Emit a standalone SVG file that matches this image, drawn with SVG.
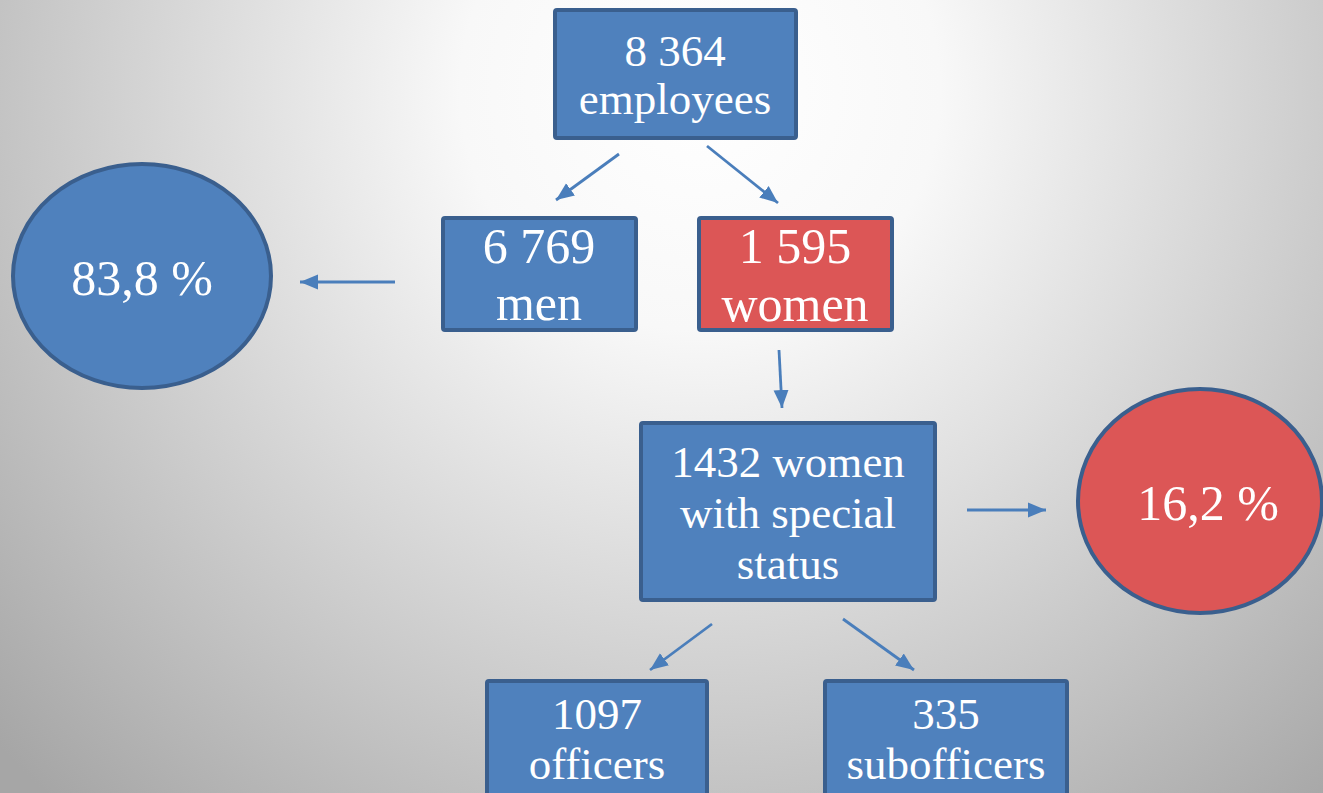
<svg xmlns="http://www.w3.org/2000/svg" width="1323" height="793" viewBox="0 0 1323 793">
<defs>
<radialGradient id="bg" gradientUnits="userSpaceOnUse" cx="700" cy="90" r="960">
<stop offset="0" stop-color="#ffffff"/>
<stop offset="0.25" stop-color="#f8f8f8"/>
<stop offset="1" stop-color="#a6a6a6"/>
</radialGradient>
<marker id="ah" markerUnits="userSpaceOnUse" markerWidth="20" markerHeight="18" refX="18" refY="9" orient="auto">
<path d="M0,1.5 L18,9 L0,16.5 z" fill="#4a7ebb"/>
</marker>
<style>
.box{fill:#4f81bd;stroke:#3a5f8e;stroke-width:4}
.red{fill:#dc5656;stroke:#3a5f8e;stroke-width:4}
.t{fill:#ffffff;font-family:"Liberation Serif","DejaVu Serif",serif;text-anchor:middle;font-size:45px}
.b{font-size:50px}
.c line{stroke:#4a7ebb;stroke-width:2.8;marker-end:url(#ah)}
</style>
</defs>
<rect x="0" y="0" width="1323" height="793" fill="url(#bg)"/>
<g class="c" id="connectors">
<line x1="619" y1="154" x2="556" y2="200"/>
<line x1="707" y1="146" x2="778" y2="203"/>
<line x1="395" y1="282" x2="300" y2="282"/>
<line x1="779" y1="350" x2="782" y2="408"/>
<line x1="967" y1="510" x2="1046" y2="510"/>
<line x1="712" y1="624" x2="650" y2="670"/>
<line x1="843" y1="619" x2="914" y2="670"/>
</g>
<g id="employees">
<rect class="box" x="555" y="10" width="241" height="128" rx="2"/>
<text class="t" x="675" y="66">8 364</text>
<text class="t" x="675" y="114">employees</text>
</g>
<g id="men">
<rect class="box" x="443" y="218" width="193" height="112" rx="2"/>
<text class="t b" x="539" y="263">6 769</text>
<text class="t b" x="539" y="320">men</text>
</g>
<g id="women">
<rect class="red" x="699" y="218" width="193" height="112" rx="2"/>
<text class="t b" x="795" y="263">1 595</text>
<text class="t b" x="795" y="321">women</text>
</g>
<g id="pct-men">
<ellipse class="box" cx="142" cy="276" rx="129" ry="112"/>
<text class="t b" x="142" y="295">83,8 %</text>
</g>
<g id="special">
<rect class="box" x="641" y="423" width="294" height="177" rx="2"/>
<text class="t" x="788" y="477">1432 women</text>
<text class="t" x="788" y="528">with special</text>
<text class="t" x="788" y="579">status</text>
</g>
<g id="pct-women">
<ellipse class="red" cx="1200" cy="501" rx="122" ry="112"/>
<text class="t b" x="1208" y="520">16,2 %</text>
</g>
<g id="officers">
<rect class="box" x="487" y="681" width="220" height="120" rx="2"/>
<text class="t" x="597" y="729">1097</text>
<text class="t" x="597" y="779">officers</text>
</g>
<g id="subofficers">
<rect class="box" x="825" y="681" width="242" height="120" rx="2"/>
<text class="t" x="946" y="729">335</text>
<text class="t" x="946" y="779">subofficers</text>
</g>
</svg>
